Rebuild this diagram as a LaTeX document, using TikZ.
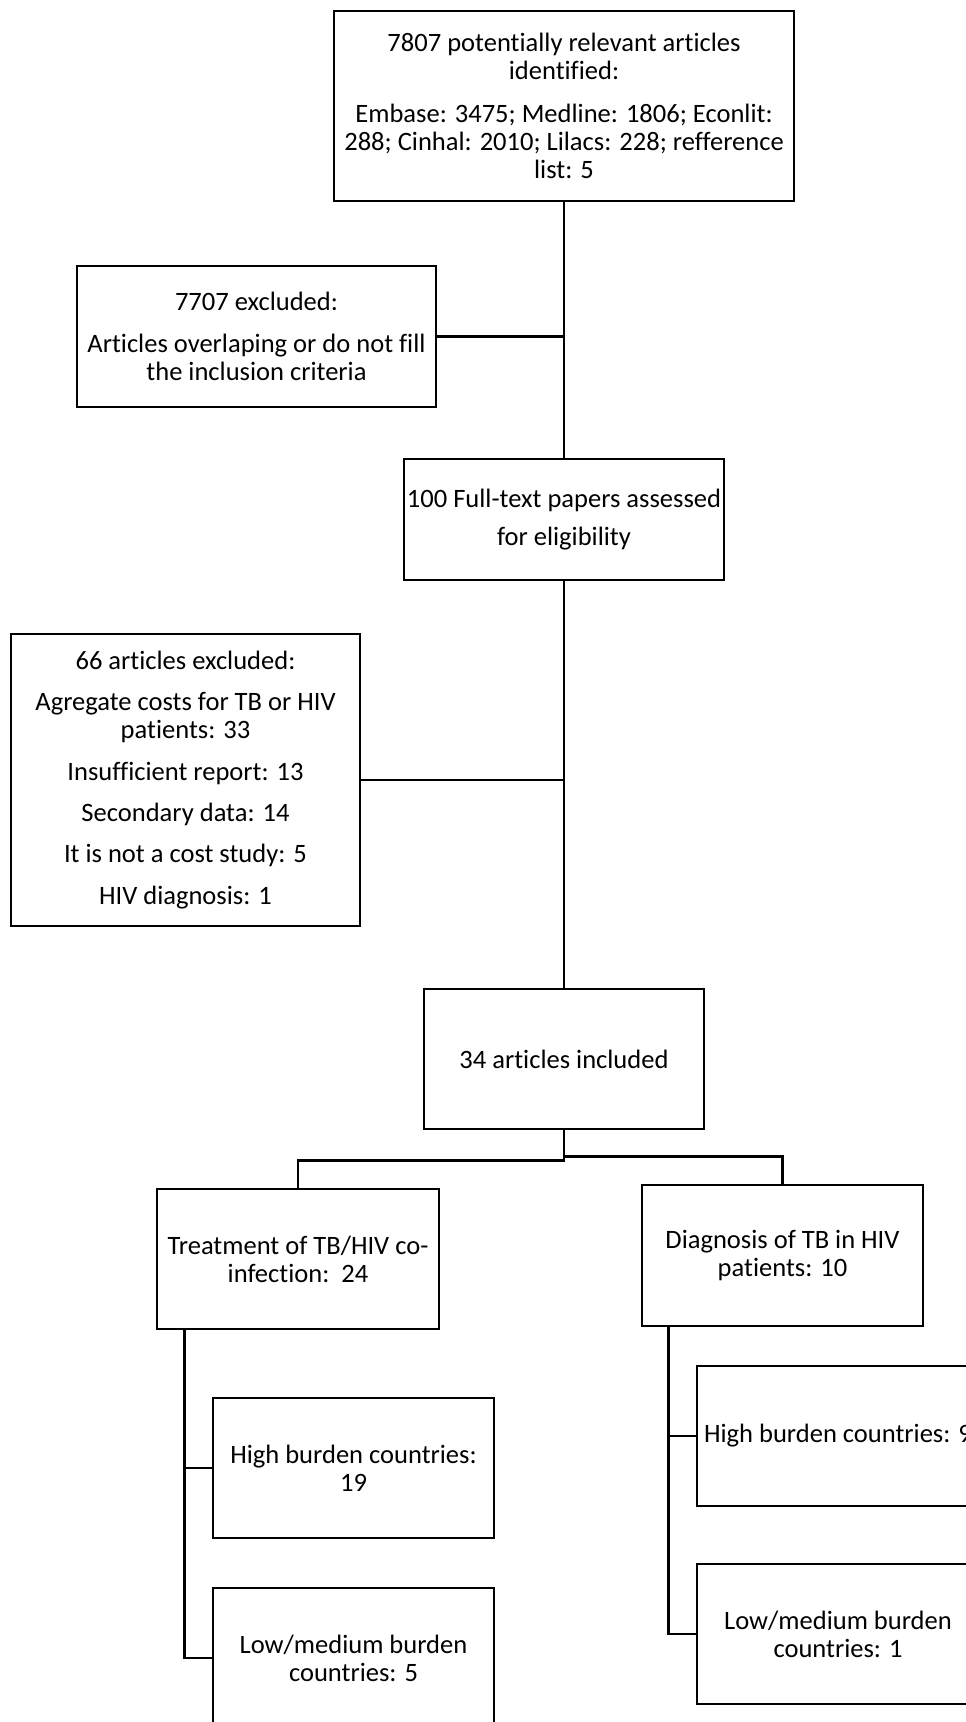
\documentclass[tikz,border=0pt]{standalone}
\usepackage{fontspec}
\setmainfont{Carlito}[Ligatures={NoCommon,NoRare,NoContextual}]
\begin{document}
\begin{tikzpicture}[x=0.75pt,y=-0.75pt,
  box/.style n args={2}{draw=black, line width=1.9pt, rectangle, inner sep=0pt,
    align=center, minimum width=#1*0.75pt, minimum height=#2*0.75pt,
    font=\fontsize{19.9pt}{21pt}\selectfont},
  link/.style={draw=black, line width=1.9pt}]
\useasboundingbox (0,0) rectangle (966,1722);
\clip (0,0) rectangle (966,1722);

\node[box={460}{190}] (top) at (564,106) {7807 potentially relevant articles\\identified:\\[11pt]Embase: 3475; Medline: 1806; Econlit:\\288; Cinhal: 2010; Lilacs: 228; refference\\list: 5};
\node[box={359}{141}] (excla) at (256.5,336.5) {7707 excluded:\\[10pt]Articles overlaping or do not fill\\the inclusion criteria};
\node[box={320}{121}] (full) at (564,519.5) {100 Full-text papers assessed\\[8pt]for eligibility};
\node[box={349}{292}] (exclb) at (185.5,780) {66 articles excluded:\\[10pt]Agregate costs for TB or HIV\\patients: 33\\[10pt]Insufficient report: 13\\[10pt]Secondary data: 14\\[10pt]It is not a cost study: 5\\[10pt]HIV diagnosis: 1};
\node[box={280}{140}] (incl) at (564,1059) {34 articles included};
\node[box={282}{140}] (treat) at (298,1259) {Treatment of TB/HIV co-\\infection:\ \ 24};
\node[box={281}{141}] (diag) at (782.5,1255.5) {Diagnosis of TB in HIV\\patients: 10};
\node[box={281}{140}] (hightr) at (353.5,1468) {High burden countries:\\19};
\node[box={281}{140}] (lowtr) at (353.5,1658) {Low/medium burden\\countries: 5};
\node[box={282}{140}] (highdg) at (838,1436) {High burden countries: 9};
\node[box={282}{140}] (lowdg) at (838,1634) {Low/medium burden\\countries: 1};

\draw[link] (top.south) -- (full.north);
\draw[link] (excla.east) -- (excla.east -| top.south);
\draw[link] (full.south) -- (incl.north);
\draw[link] (exclb.east) -- (exclb.east -| full.south);
\draw[link] (incl.south) -- ++(0,30) -| (treat.north);
\draw[link] (incl.south) ++(0,26) -| (diag.north);
\coordinate (tl) at ([xshift=21.75pt]treat.south west);
\coordinate (dl) at ([xshift=21pt]diag.south west);
\draw[link] (tl) |- (hightr.west);
\draw[link] (tl) |- (lowtr.west);
\draw[link] (dl) |- (highdg.west);
\draw[link] (dl) |- (lowdg.west);
\end{tikzpicture}
\end{document}
